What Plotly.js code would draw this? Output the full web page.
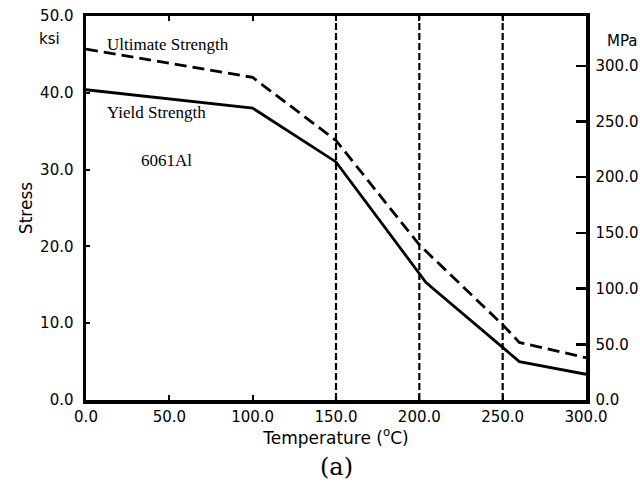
<!DOCTYPE html>
<html>
<head>
<meta charset="utf-8">
<script src="https://cdn.plot.ly/plotly-3.0.1.min.js"></script>
<style>html,body{margin:0;padding:0;background:#fff;}#chart{width:640px;height:485px;}</style>
</head>
<body>
<div id="chart"></div>
<script>
// Data (temperature in °C, stress in ksi)
const yieldTemps = [0, 100, 150, 204, 260, 300];
const yieldStress = [40.4, 38.0, 31.0, 15.3, 5.0, 3.35];
const ultimateTemps = [0, 100, 150, 200, 250, 260, 300];
const ultimateStress = [45.7, 42.0, 33.8, 20.2, 9.8, 7.5, 5.5];
const markerTemps = [150, 200, 250];
const xTicks = [0, 50, 100, 150, 200, 250, 300];
const ksiTicks = [0, 10, 20, 30, 40, 50];
const mpaTicks = [0, 50, 100, 150, 200, 250, 300];
const KSI_TO_MPA = 6.8948;

const sans = 'DejaVu Sans, sans-serif';
const serif = 'Liberation Serif, Times New Roman, serif';

const traces = [
  {x: ultimateTemps, y: ultimateStress, mode: 'lines', name: 'Ultimate Strength',
   line: {color: '#000', width: 2.8, dash: '12px,6px'}, hoverinfo: 'skip'},
  {x: yieldTemps, y: yieldStress, mode: 'lines', name: 'Yield Strength',
   line: {color: '#000', width: 2.8}, hoverinfo: 'skip'},
  {x: [0, 300], y: [0, 0], yaxis: 'y2', mode: 'lines', line: {width: 0},
   showlegend: false, hoverinfo: 'skip'}
];

const shapes = markerTemps.map(t => ({
  type: 'line', xref: 'x', yref: 'paper', x0: t, x1: t, y0: 0, y1: 1,
  line: {color: '#000', width: 2.2, dash: '7px,3px'}
}));

const layout = {
  width: 640, height: 485,
  margin: {l: 86, r: 54, t: 16, b: 85},
  paper_bgcolor: '#fff', plot_bgcolor: '#fff',
  showlegend: false,
  font: {family: sans, size: 15, color: '#000'},
  xaxis: {
    range: [0, 300], tickvals: xTicks, tickformat: '.1f',
    showgrid: false, zeroline: false,
    showline: true, linecolor: '#000', linewidth: 3.5, mirror: 'ticks',
    ticks: 'inside', ticklen: 5, tickwidth: 2, tickcolor: '#000',
    tickfont: {family: sans, size: 15},
    title: {text: 'Temperature (<sup>o</sup>C)', font: {family: sans, size: 17}, standoff: 6}
  },
  yaxis: {
    range: [0, 50], tickvals: ksiTicks, tickformat: '.1f',
    showgrid: false, zeroline: false,
    showline: true, linecolor: '#000', linewidth: 3.5,
    ticks: 'inside', ticklen: 4, tickwidth: 2, tickcolor: '#000',
    tickfont: {family: sans, size: 15}, ticklabelstandoff: 6,
    title: {text: 'Stress', font: {family: sans, size: 17}, standoff: 4}
  },
  yaxis2: {
    overlaying: 'y', side: 'right',
    range: [0, 50 * KSI_TO_MPA], tickvals: mpaTicks, tickformat: '.1f',
    showgrid: false, zeroline: false,
    showline: true, linecolor: '#000', linewidth: 3.5,
    ticks: 'inside', ticklen: 10, tickwidth: 2.5, tickcolor: '#000',
    tickfont: {family: sans, size: 15}, ticklabelstandoff: 3
  },
  shapes: shapes,
  annotations: [
    {text: 'ksi', xref: 'paper', yref: 'paper', x: -0.074, y: 0.94, xanchor: 'center', yanchor: 'middle',
     showarrow: false, font: {family: sans, size: 15}},
    {text: 'MPa', xref: 'paper', yref: 'paper', x: 1.072, y: 0.935, xanchor: 'center', yanchor: 'middle',
     showarrow: false, font: {family: sans, size: 15}},
    {text: 'Ultimate Strength', xref: 'x', yref: 'y', x: 49, y: 46.3, xanchor: 'center', yanchor: 'middle',
     showarrow: false, font: {family: serif, size: 17}},
    {text: 'Yield Strength', xref: 'x', yref: 'y', x: 42, y: 37.5, xanchor: 'center', yanchor: 'middle',
     showarrow: false, font: {family: serif, size: 17}},
    {text: '6061Al', xref: 'x', yref: 'y', x: 48.5, y: 31.2, xanchor: 'center', yanchor: 'middle',
     showarrow: false, font: {family: serif, size: 17}},
    {text: '(a)', xref: 'paper', yref: 'paper', x: 0.5, y: -0.175, xanchor: 'center', yanchor: 'middle',
     showarrow: false, font: {family: 'DejaVu Serif, serif', size: 24}}
  ]
};

Plotly.newPlot('chart', traces, layout, {displayModeBar: false, staticPlot: true});
</script>
</body>
</html>
